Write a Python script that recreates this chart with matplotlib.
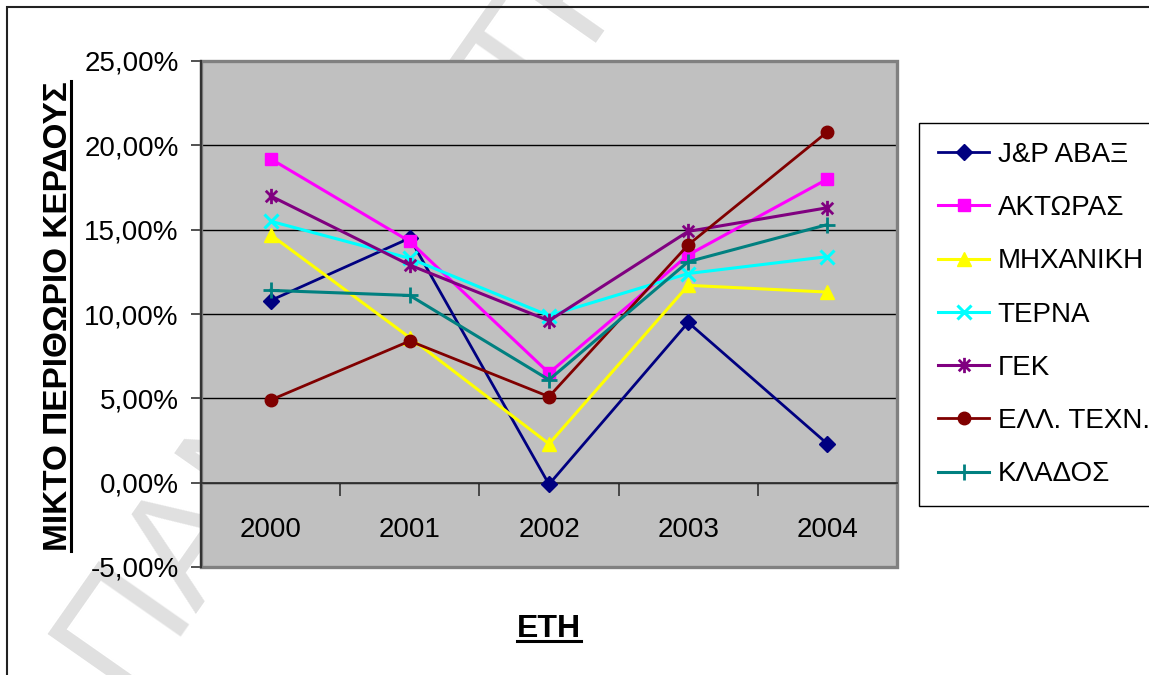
import matplotlib
matplotlib.use('Agg')
import matplotlib.pyplot as plt
from matplotlib.path import Path
from matplotlib.patches import Rectangle
from matplotlib.lines import Line2D
import matplotlib.ticker as mticker
from matplotlib import font_manager

plt.rcParams['font.family'] = ['Liberation Sans', 'DejaVu Sans']

# ---------------- data ----------------
years = ['2000', '2001', '2002', '2003', '2004']
jp_avax = [10.8, 14.5, -0.1, 9.5, 2.3]
aktor = [19.2, 14.3, 6.5, 13.5, 18.0]
mixaniki = [14.7, 8.6, 2.3, 11.7, 11.3]
terna = [15.5, 13.3, 9.9, 12.4, 13.4]
gek = [17.0, 12.9, 9.6, 14.9, 16.3]
ell_techn = [4.9, 8.4, 5.1, 14.1, 20.8]
klados = [11.4, 11.1, 6.1, 13.1, 15.3]
series_names = ['J&P ΑΒΑΞ', 'ΑΚΤΩΡΑΣ', 'ΜΗΧΑΝΙΚΗ', 'ΤΕΡΝΑ', 'ΓΕΚ', 'ΕΛΛ. ΤΕΧΝ.', 'ΚΛΑΔΟΣ']
y_ticks = [-5, 0, 5, 10, 15, 20, 25]
y_label = 'ΜΙΚΤΟ ΠΕΡΙΘΩΡΙΟ ΚΕΡΔΟΥΣ'
x_label = 'ΕΤΗ'
watermark = 'ΠΑΝΕΠΙΣΤΗΜΙΟ'

# asterisk (Excel "star") marker: vertical line + X
star = Path([(0, -1), (0, 1), (-0.75, -0.75), (0.75, 0.75), (-0.75, 0.75), (0.75, -0.75)],
            [Path.MOVETO, Path.LINETO] * 3)

styles = [
    dict(color='#000080', marker='D', ms=8, lw=2.0),
    dict(color='#FF00FF', marker='s', ms=9, lw=2.2),
    dict(color='#FFFF00', marker='^', ms=10, lw=2.2),
    dict(color='#00FFFF', marker='x', ms=10, lw=2.2, mew=2.2),
    dict(color='#800080', marker=star, ms=11, lw=2.2, mew=2.0),
    dict(color='#800000', marker='o', ms=9, lw=2.0),
    dict(color='#008080', marker='+', ms=12, lw=2.2, mew=2.0),
]
data = [jp_avax, aktor, mixaniki, terna, gek, ell_techn, klados]

W, H = 1149, 675
fig = plt.figure(figsize=(W / 100, H / 100), dpi=100)
fig.patch.set_facecolor('white')

# watermark
fig.text(125 / W, 1 - 697 / H, watermark, rotation=55, rotation_mode='anchor',
         ha='left', va='baseline', fontsize=115, color='#e0e0e0', zorder=-5)

# page border
fig.patches.append(Rectangle((7 / W, -1), 2, 2 - 7 / H, transform=fig.transFigure,
                             fill=False, edgecolor='#222222', lw=1.5, zorder=-4))

ax = fig.add_axes([201 / W, 1 - 567 / H, (897 - 201) / W, (567 - 61) / H])
ax.set_facecolor('#C0C0C0')
ax.set_xlim(-0.5, 4.5)
ax.set_ylim(-5, 25)

xs = list(range(len(years)))
handles = []
for name, vals, st in zip(series_names, data, styles):
    st = dict(st)
    c = st.pop('color')
    h, = ax.plot(xs, vals, color=c, markerfacecolor=c, markeredgecolor=c,
                 label=name, clip_on=False, zorder=3, **st)
    handles.append(h)

# y axis
ax.set_yticks(y_ticks)
ax.yaxis.set_major_formatter(mticker.FuncFormatter(lambda v, p: f'{v:.2f}%'.replace('.', ',')))
ax.tick_params(axis='y', length=7, width=1.2, color='#333333', pad=9, labelsize=20)
ax.yaxis.grid(True, color='black', lw=1.0)
ax.set_axisbelow(True)

# x axis crossing at 0
ax.spines['bottom'].set_position(('data', 0))
ax.spines['bottom'].set_color('#333333')
ax.spines['bottom'].set_linewidth(1.3)
ax.spines['left'].set_color('#333333')
ax.spines['left'].set_linewidth(1.6)
ax.spines['top'].set_visible(False)
ax.spines['right'].set_visible(False)
ax.set_xticks([0.5, 1.5, 2.5, 3.5])
ax.set_xticklabels([])
ax.set_xticks(xs, minor=True)
ax.set_xticklabels(years, minor=True)
ax.tick_params(axis='x', which='major', length=9, width=1.2, color='#333333', direction='out')
ax.tick_params(axis='x', which='minor', length=0, pad=25, labelsize=20)

# plot-area border
ax.add_patch(Rectangle((0, 0), 1, 1, transform=ax.transAxes, fill=False,
                       edgecolor='#808080', lw=2.4, zorder=2.4, clip_on=False))

# legend (narrow face if available, as in the reference)
names = {f.name for f in font_manager.fontManager.ttflist}
if 'Liberation Sans Narrow' in names:
    leg_font = dict(family=['Liberation Sans Narrow', 'DejaVu Sans'], size=23)
    leg_kw = dict(handlelength=1.75, handletextpad=0.28, labelspacing=0.5, borderpad=0.52)
else:
    leg_font = dict(family=['Liberation Sans', 'DejaVu Sans'], size=20)
    leg_kw = dict(handlelength=1.85, handletextpad=0.3, labelspacing=0.98, borderpad=0.68)
leg = fig.legend(handles=handles, loc='upper left', bbox_to_anchor=(919 / W, 1 - 123 / H),
                 borderaxespad=0, frameon=True, fancybox=False, edgecolor='black',
                 prop=leg_font, framealpha=1, **leg_kw)
leg.get_frame().set_linewidth(1.0)

# axis titles (bold, underlined)
yl = fig.text(67 / W, 1 - 316 / H, y_label, rotation=90, rotation_mode='anchor',
              ha='center', va='baseline', fontsize=24, fontweight='bold')
xl = fig.text(549 / W, 1 - 637 / H, x_label, ha='center', va='baseline',
              fontsize=23, fontweight='bold')

fig.canvas.draw()
r = fig.canvas.get_renderer()
inv = fig.transFigure.inverted()
bb = yl.get_window_extent(r)
(x0, y0) = inv.transform((bb.x0, bb.y0))
(x1, y1) = inv.transform((bb.x1, bb.y1))
ux = (67 + 4) / W
fig.lines.append(Line2D([ux, ux], [y0, y1], transform=fig.transFigure, color='black', lw=2.2))
bb = xl.get_window_extent(r)
(x0, y0) = inv.transform((bb.x0, bb.y0))
(x1, y1) = inv.transform((bb.x1, bb.y1))
uy = 1 - 641 / H
fig.lines.append(Line2D([x0, x1], [uy, uy], transform=fig.transFigure, color='black', lw=2.2))

fig.savefig('out.png', dpi=100)
